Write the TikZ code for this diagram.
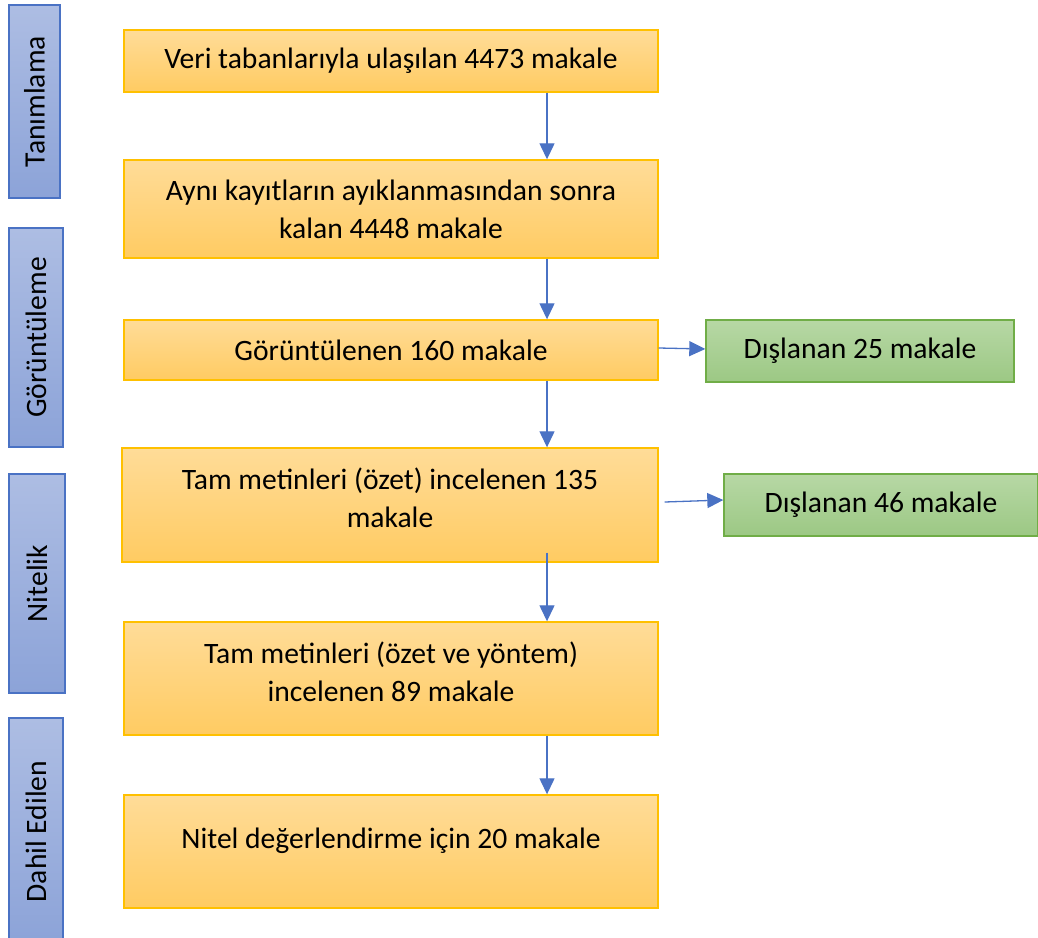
\documentclass[tikz,border=0pt]{standalone}
\usepackage{fontspec}
\setmainfont{Carlito}
\usetikzlibrary{arrows.meta}
\definecolor{panelTop}{HTML}{FFDC98}
\definecolor{panelBot}{HTML}{FFCB62}
\definecolor{panelLine}{HTML}{FFC000}
\definecolor{outTop}{HTML}{B7D8A5}
\definecolor{outBot}{HTML}{9CC884}
\definecolor{outLine}{HTML}{70AD47}
\definecolor{barLight}{HTML}{ADBDE3}
\definecolor{barDark}{HTML}{8CA3D8}
\definecolor{barLine}{HTML}{4A72C4}

\begin{document}
\begin{tikzpicture}[x=1pt,y=-1pt,
  every node/.style={font=\fontsize{29.6}{38}\selectfont},
  panel/.style={draw=panelLine,line width=1.4pt,top color=panelTop,bottom color=panelBot,
    minimum width=534pt,align=center,inner sep=0pt},
  outbox/.style={draw=outLine,line width=1.4pt,top color=outTop,bottom color=outBot,
    minimum width=308pt,minimum height=62pt,inner sep=0pt},
  stagebar/.style={draw=barLine,line width=1.4pt,rotate=90,top color=barLight,bottom color=barDark,inner sep=0pt},
  flow/.style={draw=barLine,line width=1.3pt,-{Triangle[width=15pt,length=16pt]}}]
\useasboundingbox (0,0) rectangle (1038,937);

% stages on the left
\node[stagebar,minimum width=193pt,minimum height=51pt] (tanim) at (34.5,101.5) {Tanımlama};
\node[stagebar,minimum width=219pt,minimum height=54pt] (gorun) at (36,337.5) {Görüntüleme};
\node[stagebar,minimum width=219pt,minimum height=56pt] (nitel) at (37,583.5) {Nitelik};
\node[stagebar,minimum width=227pt,minimum height=54pt] (dahil) at (36,831.5) {Dahil Edilen};

% main flow
\node[panel,minimum height=62pt] (b1) at (391,61) {Veri tabanlarıyla ulaşılan 4473 makale};
\node[panel,minimum height=98pt] (b2) at (391,209) {Aynı kayıtların ayıklanmasından sonra\\kalan 4448 makale};
\node[panel,minimum height=60pt] (b3) at (391,350) {Görüntülenen 160 makale};
\node[panel,minimum width=536pt,minimum height=114pt,
  label={[name=t4,align=center,yshift=7pt]center:{Tam metinleri (özet) incelenen 135\\makale}}] (b4) at (390,505) {};
\node[panel,minimum height=113pt,
  label={[name=t5,align=center,yshift=7pt]center:{Tam metinleri (özet ve yöntem)\\incelenen 89 makale}}] (b5) at (391,678.5) {};
\node[panel,minimum height=113pt,
  label={[name=t6,yshift=11pt]center:{Nitel değerlendirme için 20 makale}}] (b6) at (391,851.5) {};

% excluded
\node[outbox] (x1) at (860,351) {Dışlanan 25 makale};
\node[outbox,minimum width=314pt] (x2) at (881,505) {Dışlanan 46 makale};

% connectors
\coordinate (ax) at (547,0);
\draw[flow] (b1.south -| ax) -- (b2.north -| ax);
\draw[flow] (b2.south -| ax) -- (b3.north -| ax);
\draw[flow] (b3.south -| ax) -- (b4.north -| ax);
\draw[flow] ([yshift=10pt]b4.south -| ax) -- (b5.north -| ax);
\draw[flow] (b5.south -| ax) -- (b6.north -| ax);
\draw[flow] ([yshift=2pt]b3.east) -- ([yshift=2pt]x1.west);
\draw[flow] ([xshift=6pt,yshift=3pt]b4.east) -- ([yshift=5pt]x2.west);
\end{tikzpicture}
\end{document}
